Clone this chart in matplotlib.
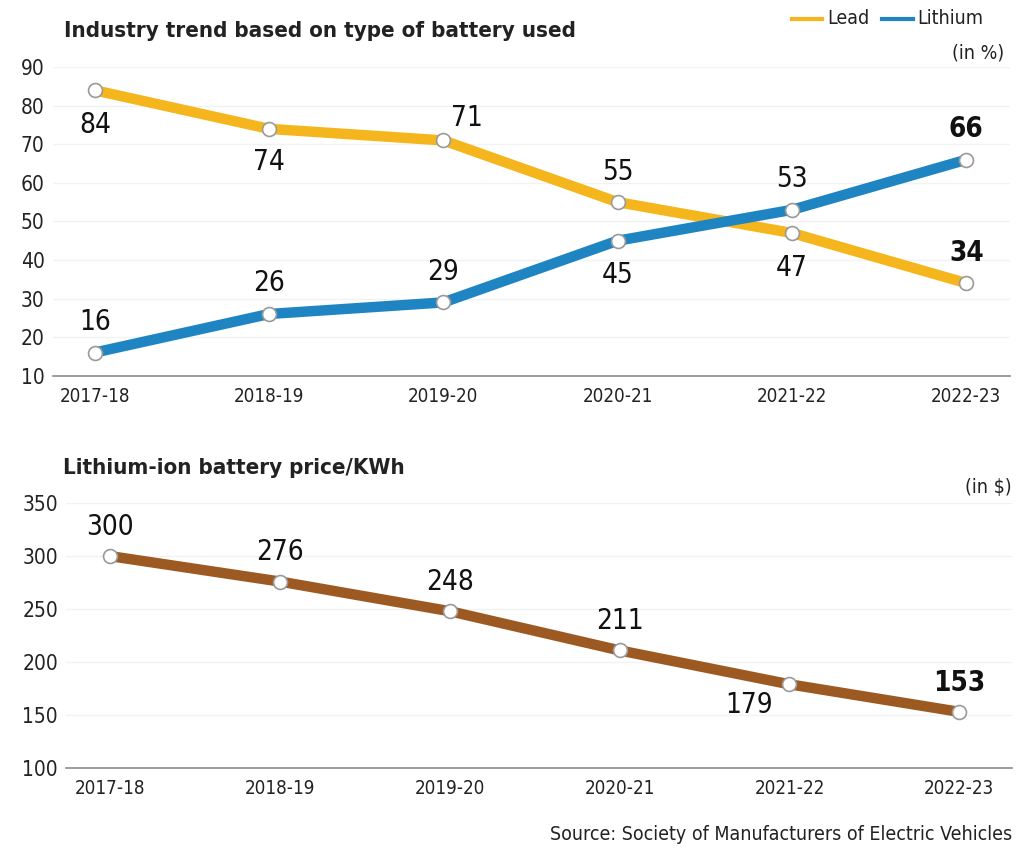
import matplotlib
matplotlib.use("Agg")
import matplotlib.pyplot as plt

years = ['2017-18', '2018-19', '2019-20', '2020-21', '2021-22', '2022-23']
lead = [84, 74, 71, 55, 47, 34]
lithium = [16, 26, 29, 45, 53, 66]
price = [300, 276, 248, 211, 179, 153]

# label offsets (points) for each value label
lead_off = [(0, -25), (0, -24), (17, 16), (0, 22), (0, -25), (0, 22)]
lith_off = [(0, 22), (0, 22), (0, 22), (0, -25), (0, 22), (0, 22)]
price_off = [(0, 21), (0, 21), (0, 21), (0, 21), (-29, -15), (0, 21)]

plt.rcParams['font.family'] = ['DejaVu Sans']
plt.rcParams['font.stretch'] = 'condensed'

c_lead = '#F4B61C'
c_lith = '#1F84C2'
c_price = '#9C5A22'
txt = '#222222'

fig = plt.figure(figsize=(10.19, 8.5), dpi=100)
ax1 = fig.add_axes([0.052, 0.558, 0.939, 0.363])
ax2 = fig.add_axes([0.065, 0.0965, 0.928, 0.3115])

x = list(range(len(years)))


def style(ax, yticks):
    for s in ['top', 'right', 'left']:
        ax.spines[s].set_visible(False)
    ax.spines['bottom'].set_color('#8a8a8a')
    ax.spines['bottom'].set_linewidth(1.2)
    ax.set_yticks(yticks)
    ax.set_xticks(x)
    ax.set_xticklabels(years)
    ax.tick_params(length=0, colors=txt)
    ax.tick_params(axis='y', labelsize=15, pad=6)
    ax.tick_params(axis='x', labelsize=13.5, pad=8)
    ax.grid(axis='y', color='#f2f2f2', linewidth=1)
    ax.set_axisbelow(True)


def series(ax, vals, color, offs):
    ax.plot(x, vals, color=color, linewidth=7.5, solid_capstyle='round',
            marker='o', markersize=10, markerfacecolor='white',
            markeredgecolor='#9a9a9a', markeredgewidth=1.2, zorder=3)
    for i, (v, o) in enumerate(zip(vals, offs)):
        last = i == len(vals) - 1
        ax.annotate(str(v), (x[i], v), xytext=o, textcoords='offset points',
                    ha='center', va='center', fontsize=20, color='#111111',
                    fontweight='bold' if last else 'normal')


# top chart
style(ax1, range(10, 91, 10))
ax1.set_ylim(10, 90)
ax1.set_xlim(-0.24, 5.25)
series(ax1, lead, c_lead, lead_off)
series(ax1, lithium, c_lith, lith_off)

# bottom chart
style(ax2, range(100, 351, 50))
ax2.set_ylim(100, 350)
ax2.set_xlim(-0.26, 5.31)
series(ax2, price, c_price, price_off)

# titles and notes
fig.text(0.063, 0.963, 'Industry trend based on type of battery used',
         fontsize=16, fontweight='bold', color=txt, va='center')
fig.text(0.062, 0.45, 'Lithium-ion battery price/KWh',
         fontsize=16, fontweight='bold', color=txt, va='center')

# legend
fig.add_artist(plt.Line2D([0.777, 0.807], [0.978, 0.978], color=c_lead, linewidth=3))
fig.text(0.812, 0.978, 'Lead', fontsize=14, color=txt, va='center')
fig.add_artist(plt.Line2D([0.866, 0.896], [0.978, 0.978], color=c_lith, linewidth=3))
fig.text(0.900, 0.978, 'Lithium', fontsize=14, color=txt, va='center')
fig.text(0.985, 0.938, '(in %)', fontsize=14, color=txt, va='center', ha='right')
fig.text(0.993, 0.426, '(in $)', fontsize=14, color=txt, va='center', ha='right')
fig.text(0.993, 0.018, 'Source: Society of Manufacturers of Electric Vehicles',
         fontsize=14, color=txt, va='center', ha='right')

fig.savefig('out.png', dpi=100, facecolor='white')
